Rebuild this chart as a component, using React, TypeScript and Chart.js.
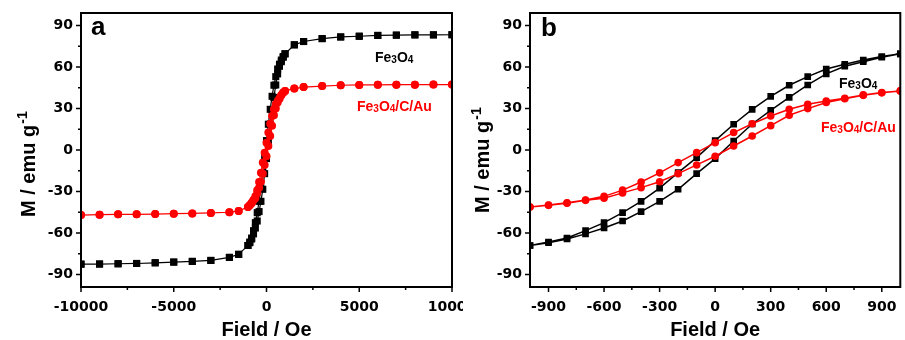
import React, { useEffect, useRef } from "react";
import { Chart, registerables } from "chart.js";
Chart.register(...registerables);

// ---------- data ----------
// Panel b (and central part of panel a): field sweep in Oe
const fieldLoop = [-1000, -900, -800, -700, -600, -500, -400, -300, -200, -100, 0, 100, 200, 300, 400, 500, 600, 700, 800, 900, 1000];
// descending branch (from +H to -H) and ascending branch (from -H to +H)
const fe3o4Desc = [-69, -66.5, -63.6, -58.3, -52.5, -45.3, -37.1, -27.5, -16.3, -5.5, 6.8, 18.6, 29.4, 38.8, 46.8, 53, 58.5, 62, 65, 67.5, 69.5];
const fe3o4Asc = [-69, -67, -64.3, -60.6, -56.4, -51.3, -44.5, -37.1, -28.4, -17.1, -6.2, 6.5, 18.8, 28.7, 38, 47, 55, 60.5, 63.8, 67, 69.5];
const auDesc = [-41.2, -39.8, -38.2, -36.1, -33.5, -29, -23.1, -16.5, -9.1, -1.9, 5.3, 12.6, 19, 24.6, 29.4, 33, 35.4, 37.4, 39.8, 41.5, 42.7];
const auAsc = [-41.2, -40, -38.4, -36.4, -34.8, -31, -27.2, -22.9, -17.1, -10.8, -4.5, 2.9, 10.1, 17.6, 25.1, 29.9, 34.3, 37, 39.5, 41.3, 42.7];

// Panel a: high-field points
const fieldOuterNeg = [-10000, -9000, -8000, -7000, -6000, -5000, -4000, -3000, -2000, -1500];
const fe3o4OuterNeg = [-82.5, -82.4, -82.2, -82, -81.5, -81, -80.5, -79.8, -77.6, -75.4];
const auOuterNeg = [-47, -46.7, -46.5, -46.5, -46.3, -46, -45.8, -45.5, -45, -44];
const fieldOuterPos = [1500, 2000, 3000, 4000, 5000, 6000, 7000, 8000, 9000, 10000];
const fe3o4OuterPos = [76, 78.4, 80.5, 81.7, 82.2, 82.8, 83, 83.2, 83.2, 83.3];
const auOuterPos = [44.4, 45.5, 46.2, 46.8, 47, 47.1, 47.2, 47.2, 47.3, 47.3];

// ticks
const yMajor = [-90, -60, -30, 0, 30, 60, 90];
const yMinor = [-75, -45, -15, 15, 45, 75];
const xMajorA = [-10000, -5000, 0, 5000, 10000];
const xMinorA = [-7500, -2500, 2500, 7500];
const xMajorB = [-900, -600, -300, 0, 300, 600, 900];
const xMinorB = [-750, -450, -150, 150, 450, 750];

type P = { x: number; y: number };
const pts = (xs: number[], ys: number[]): P[] => xs.map((x, i) => ({ x, y: ys[i] }));
const rev = <T,>(a: T[]) => a.slice().reverse();

function loopB(desc: number[], asc: number[]): P[] {
  return [...rev(pts(fieldLoop, desc)), ...pts(fieldLoop, asc)];
}
function loopA(negY: number[], desc: number[], asc: number[], posY: number[]): P[] {
  return [
    ...rev(pts(fieldOuterPos, posY)),
    ...rev(pts(fieldLoop, desc)),
    ...rev(pts(fieldOuterNeg, negY)),
    ...pts(fieldOuterNeg, negY),
    ...pts(fieldLoop, asc),
    ...pts(fieldOuterPos, posY),
  ];
}

const TITLE_FONT = "bold 20px 'Liberation Sans', Arial, sans-serif";
const LABEL_FONT = "bold 14px 'Liberation Sans', Arial, sans-serif";
const SUB_FONT = "bold 10px 'Liberation Sans', Arial, sans-serif";

function drawChem(ctx: CanvasRenderingContext2D, parts: [string, boolean][], x: number, y: number, color: string) {
  ctx.fillStyle = color;
  ctx.textAlign = "left";
  ctx.textBaseline = "alphabetic";
  let cx = x;
  for (const [t, sub] of parts) {
    ctx.font = sub ? SUB_FONT : LABEL_FONT;
    ctx.fillText(t, cx, y + (sub ? 1 : 0));
    cx += ctx.measureText(t).width;
  }
}
const FE3O4: [string, boolean][] = [["Fe", false], ["3", true], ["O", false], ["4", true]];
const FE3O4CAU: [string, boolean][] = [["Fe", false], ["3", true], ["O", false], ["4", true], ["/C/Au", false]];

interface PanelCfg {
  width: number;
  area: { left: number; top: number; right: number; bottom: number };
  xMin: number; xMax: number;
  xMajor: number[]; xMinor: number[];
  black: P[]; red: P[];
  sq: number; circ: number; lw: number;
  letter: string; letterPos: [number, number];
  blackLab: [number, number]; redLab: [number, number];
  yTitle: [number, number];
}

function makeChart(canvas: HTMLCanvasElement, c: PanelCfg) {
  const H = 340;
  const frame = {
    id: "frame" + c.letter,
    afterDraw(chart: any) {
      const ctx: CanvasRenderingContext2D = chart.ctx;
      const a = chart.chartArea;
      const xs = chart.scales.x, ys = chart.scales.y;
      ctx.save();
      ctx.strokeStyle = "#000";
      ctx.lineWidth = 1.5;
      ctx.beginPath();
      for (const v of c.xMajor) { const px = xs.getPixelForValue(v); ctx.moveTo(px, a.bottom); ctx.lineTo(px, a.bottom + 5); }
      for (const v of c.xMinor) { const px = xs.getPixelForValue(v); ctx.moveTo(px, a.bottom); ctx.lineTo(px, a.bottom + 3); }
      for (const v of yMajor) { const py = ys.getPixelForValue(v); ctx.moveTo(a.left, py); ctx.lineTo(a.left - 5, py); }
      for (const v of yMinor) { const py = ys.getPixelForValue(v); ctx.moveTo(a.left, py); ctx.lineTo(a.left - 3, py); }
      ctx.stroke();
      ctx.lineWidth = 2;
      ctx.strokeRect(a.left, a.top, a.right - a.left, a.bottom - a.top);

      // panel letter
      ctx.fillStyle = "#000";
      ctx.font = "bold 26px 'Liberation Sans', Arial, sans-serif";
      ctx.textAlign = "left";
      ctx.textBaseline = "alphabetic";
      ctx.fillText(c.letter, c.letterPos[0], c.letterPos[1]);

      // series labels
      drawChem(ctx, FE3O4, c.blackLab[0], c.blackLab[1], "#000");
      drawChem(ctx, FE3O4CAU, c.redLab[0], c.redLab[1], "#ff0000");

      // x title
      ctx.fillStyle = "#000";
      ctx.font = TITLE_FONT;
      ctx.textAlign = "center";
      ctx.textBaseline = "alphabetic";
      ctx.fillText("Field / Oe", (a.left + a.right) / 2, 336);

      // y title (rotated)
      ctx.translate(c.yTitle[0], c.yTitle[1]);
      ctx.rotate(-Math.PI / 2);
      ctx.textAlign = "left";
      ctx.font = TITLE_FONT;
      const main = "M / emu g";
      ctx.fillText(main, 0, 0);
      const w = ctx.measureText(main).width;
      ctx.font = "bold 14px 'Liberation Sans', Arial, sans-serif";
      ctx.fillText("-1", w + 1, -8);
      ctx.restore();
    },
  };

  const tickFont = { family: "'DejaVu Sans', sans-serif", size: 14, weight: "bold" as const };
  return new Chart(canvas, {
    type: "scatter",
    data: {
      datasets: [
        {
          data: c.red, showLine: true, borderColor: "#ff0000", backgroundColor: "#ff0000",
          pointStyle: "circle", pointRadius: c.circ, pointBorderWidth: 0, borderWidth: c.lw, order: 0,
        },
        {
          data: c.black, showLine: true, borderColor: "#000000", backgroundColor: "#000000",
          pointStyle: "rect", pointRadius: c.sq, pointBorderWidth: 0, borderWidth: c.lw, order: 1,
        },
      ],
    },
    options: {
      responsive: false,
      animation: false,
      devicePixelRatio: 1,
      events: [],
      plugins: { legend: { display: false }, tooltip: { enabled: false } },
      layout: { padding: { left: 0, top: c.area.top, right: c.width - c.area.right, bottom: 0 } },
      scales: {
        x: {
          type: "linear", min: c.xMin, max: c.xMax,
          grid: { display: false, drawTicks: false },
          border: { display: false },
          ticks: { font: tickFont, color: "#000", padding: 12, maxRotation: 0, autoSkip: false, callback: (v: any) => String(v) },
          afterBuildTicks: (s: any) => { s.ticks = c.xMajor.map((v) => ({ value: v })); },
          afterFit: (s: any) => { s.height = H - c.area.bottom; s.paddingLeft = 0; s.paddingRight = 0; },
        },
        y: {
          type: "linear", min: -99, max: 99,
          grid: { display: false, drawTicks: false },
          border: { display: false },
          ticks: { font: tickFont, color: "#000", padding: 8, autoSkip: false, callback: (v: any) => String(v) },
          afterBuildTicks: (s: any) => { s.ticks = yMajor.map((v) => ({ value: v })); },
          afterFit: (s: any) => { s.width = c.area.left; s.paddingTop = 0; s.paddingBottom = 0; },
        },
      },
    },
    plugins: [frame],
  } as any);
}

function Panel({ cfg, left }: { cfg: PanelCfg; left: number }) {
  const ref = useRef<HTMLCanvasElement | null>(null);
  useEffect(() => {
    if (!ref.current) return;
    const ch = makeChart(ref.current, cfg);
    return () => ch.destroy();
  }, []);
  return (
    <canvas
      ref={ref}
      width={cfg.width}
      height={340}
      style={{ position: "absolute", left, top: 0, width: cfg.width, height: 340, display: "block" }}
    />
  );
}

const panelA: PanelCfg = {
  width: 463,
  area: { left: 81, top: 13, right: 452, bottom: 287 },
  xMin: -10000, xMax: 10000,
  xMajor: xMajorA, xMinor: xMinorA,
  black: loopA(fe3o4OuterNeg, fe3o4Desc, fe3o4Asc, fe3o4OuterPos),
  red: loopA(auOuterNeg, auDesc, auAsc, auOuterPos),
  sq: 5, circ: 4, lw: 1.2,
  letter: "a", letterPos: [91, 35],
  blackLab: [375, 62], redLab: [357, 111],
  yTitle: [35, 217],
};

const panelB: PanelCfg = {
  width: 442,
  area: { left: 67, top: 13, right: 439, bottom: 287 },
  xMin: -1000, xMax: 1000,
  xMajor: xMajorB, xMinor: xMinorB,
  black: loopB(fe3o4Desc, fe3o4Asc),
  red: loopB(auDesc, auAsc),
  sq: 4.7, circ: 3.8, lw: 1.5,
  letter: "b", letterPos: [78, 36],
  blackLab: [376, 88], redLab: [358, 132],
  yTitle: [26, 213],
};

export default function App() {
  return (
    <div style={{ position: "absolute", left: 0, top: 0, width: 905, height: 340, background: "#fff", overflow: "hidden" }}>
      <Panel cfg={panelA} left={0} />
      <Panel cfg={panelB} left={463} />
    </div>
  );
}
